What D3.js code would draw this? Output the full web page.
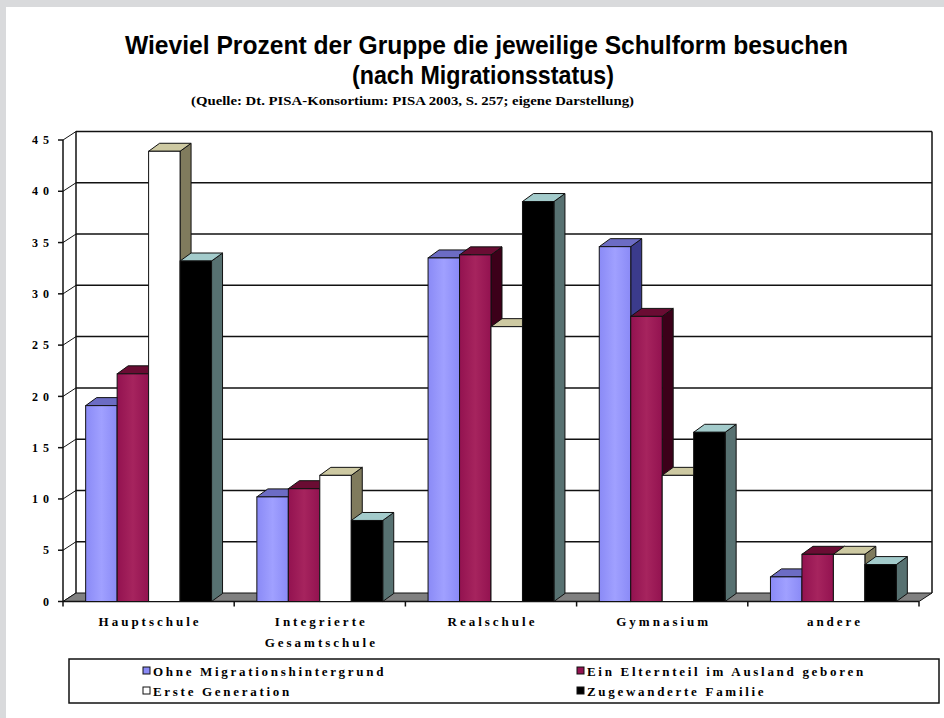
<!DOCTYPE html>
<html>
<head>
<meta charset="utf-8">
<script src="https://cdn.jsdelivr.net/npm/d3@7"></script>
<style>
  html, body { margin: 0; padding: 0; background: #d9dadc; }
  svg { display: block; }
</style>
</head>
<body>
<svg id="chart" width="944" height="718"></svg>
<script>
// data
const categories = ['Hauptschule', 'Integrierte Gesamtschule', 'Realschule', 'Gymnasium', 'andere'];
const seriesNames = ['Ohne Migrationshintergrund', 'Ein Elternteil im Ausland geboren', 'Erste Generation', 'Zugewanderte Familie'];
const ohneMigration = [19.1, 10.2, 33.5, 34.6, 2.4];
const einElternteil = [22.2, 11.0, 33.8, 27.8, 4.6];
const ersteGeneration = [43.9, 12.3, 26.8, 12.3, 4.6];
const zugewandert = [33.2, 7.9, 39.0, 16.5, 3.6];
const yTicks = [0, 5, 10, 15, 20, 25, 30, 35, 40, 45];

const seriesValues = [ohneMigration, einElternteil, ersteGeneration, zugewandert];

// face colours: front, top, side
const faces = [
  {front: '#8a8af6', light: '#a0a0ff', top: '#6c6cc4', side: '#3b3b8c'},
  {front: '#931250', light: '#a6245e', top: '#6a0c33', side: '#3c0019'},
  {front: '#ffffff', light: '#ffffff', top: '#cdc9a2', side: '#807b5d'},
  {front: '#000000', light: '#000000', top: '#a3cbcb', side: '#577171'}
];

const svg = d3.select('#chart');

// white panel (grey border only top / left)
svg.append('rect')
  .attr('x', 6).attr('y', 7)
  .attr('width', 944 - 6).attr('height', 718 - 7)
  .attr('fill', '#ffffff');

// titles
const titleFont = '"Liberation Sans Narrow", "Arial Narrow", "Liberation Sans", Arial, sans-serif';
svg.append('text')
  .attr('x', 125).attr('y', 54)
  .attr('textLength', 723).attr('lengthAdjust', 'spacingAndGlyphs')
  .style('font-family', titleFont).style('font-weight', 'bold').style('font-size', '25px')
  .text('Wieviel Prozent der Gruppe die jeweilige Schulform besuchen');
svg.append('text')
  .attr('x', 352).attr('y', 84)
  .attr('textLength', 262).attr('lengthAdjust', 'spacingAndGlyphs')
  .style('font-family', titleFont).style('font-weight', 'bold').style('font-size', '25px')
  .text('(nach Migrationsstatus)');
svg.append('text')
  .attr('x', 191).attr('y', 105)
  .attr('textLength', 443).attr('lengthAdjust', 'spacingAndGlyphs')
  .style('font-family', '"Liberation Serif", serif').style('font-weight', 'bold').style('font-size', '12px')
  .text('(Quelle: Dt. PISA-Konsortium: PISA 2003, S. 257; eigene Darstellung)');

// scales
const x0 = d3.scaleBand().domain(categories).range([63, 919]);
const x1 = d3.scaleBand().domain(d3.range(seriesNames.length)).range([0, x0.bandwidth()]).paddingOuter(0.72);
const y = d3.scaleLinear().domain([0, 45]).range([601.5, 140]);

const wallDx = 13, wallDy = -8.5;
const barDx = 11, barDy = -8;
const wallRight = x0.range()[1] + wallDx;

// gradients for bar fronts
const defs = svg.append('defs');
faces.forEach(function(f, i){
  const g = defs.append('linearGradient').attr('id', 'grad' + i)
    .attr('x1', '0%').attr('x2', '100%').attr('y1', '0%').attr('y2', '0%');
  g.append('stop').attr('offset', '0%').attr('stop-color', f.front);
  g.append('stop').attr('offset', '50%').attr('stop-color', f.light);
  g.append('stop').attr('offset', '100%').attr('stop-color', f.front);
});

const grid = svg.append('g');

// back wall grid lines + left side wall segments
yTicks.forEach(function(t){
  const yf = y(t), yb = y(t) + wallDy;
  if(t > 0){
    grid.append('line')
      .attr('x1', 63 + wallDx).attr('x2', wallRight)
      .attr('y1', yb).attr('y2', yb)
      .attr('stroke', '#111').attr('stroke-width', 1.5);
  }
  grid.append('line')
    .attr('x1', 63).attr('y1', yf)
    .attr('x2', 63 + wallDx).attr('y2', yb)
    .attr('stroke', '#111').attr('stroke-width', 1);
});

// wall edges
grid.append('line')
  .attr('x1', 63 + wallDx).attr('x2', 63 + wallDx)
  .attr('y1', y(45) + wallDy).attr('y2', y(0) + wallDy)
  .attr('stroke', '#111').attr('stroke-width', 1.5);
grid.append('line')
  .attr('x1', wallRight).attr('x2', wallRight)
  .attr('y1', y(45) + wallDy).attr('y2', y(0) + wallDy)
  .attr('stroke', '#111').attr('stroke-width', 1.5);

// floor
grid.append('polygon')
  .attr('points', [
    [63, y(0)], [919, y(0)], [919 + wallDx, y(0) + wallDy], [63 + wallDx, y(0) + wallDy]
  ].map(p => p.join(',')).join(' '))
  .attr('fill', '#808080').attr('stroke', '#111').attr('stroke-width', 1);

// y axis (front)
const yAxis = svg.append('g');
yAxis.append('line')
  .attr('x1', 63).attr('x2', 63)
  .attr('y1', y(45)).attr('y2', y(0))
  .attr('stroke', '#111').attr('stroke-width', 1.5);
yTicks.forEach(function(t){
  yAxis.append('line')
    .attr('x1', 58).attr('x2', 63)
    .attr('y1', y(t)).attr('y2', y(t))
    .attr('stroke', '#111').attr('stroke-width', 1.5);
  yAxis.append('text')
    .attr('x', 49 + 5).attr('y', y(t)).attr('dy', '0.35em')
    .attr('text-anchor', 'end')
    .style('font-family', '"Liberation Serif", serif').style('font-weight', 'bold')
    .style('font-size', '12px').style('letter-spacing', '5px')
    .text(t);
});

// x axis line + ticks
const xAxis = svg.append('g');
xAxis.append('line')
  .attr('x1', 63).attr('x2', 919)
  .attr('y1', y(0)).attr('y2', y(0))
  .attr('stroke', '#111').attr('stroke-width', 1.5);
const bounds = categories.map(c => x0(c)).concat([x0.range()[1]]);
bounds.forEach(function(bx){
  xAxis.append('line')
    .attr('x1', bx).attr('x2', bx)
    .attr('y1', y(0)).attr('y2', y(0) + 5)
    .attr('stroke', '#111').attr('stroke-width', 1.5);
});

// x labels
const xLabelLines = [['Hauptschule'], ['Integrierte', 'Gesamtschule'], ['Realschule'], ['Gymnasium'], ['andere']];
categories.forEach(function(c, i){
  const cx = x0(c) + x0.bandwidth() / 2;
  xLabelLines[i].forEach(function(line, j){
    xAxis.append('text')
      .attr('x', cx + 1.5).attr('y', 626 + j * 21)
      .attr('text-anchor', 'middle')
      .style('font-family', '"Liberation Serif", serif').style('font-weight', 'bold')
      .style('font-size', '13px').style('letter-spacing', '3px')
      .text(line);
  });
});

// bars, drawn left to right so later fronts hide earlier side faces
const bars = svg.append('g');
categories.forEach(function(c, ci){
  seriesValues.forEach(function(vals, si){
    const v = vals[ci];
    const bx = x0(c) + x1(si);
    const bw = x1.bandwidth();
    const by = y(v);
    const b0 = y(0);
    const f = faces[si];
    const g = bars.append('g');
    g.append('polygon')
      .attr('points', [[bx + bw, by], [bx + bw + barDx, by + barDy], [bx + bw + barDx, b0 + barDy], [bx + bw, b0]]
        .map(p => p.join(',')).join(' '))
      .attr('fill', f.side).attr('stroke', '#111').attr('stroke-width', 1);
    g.append('polygon')
      .attr('points', [[bx, by], [bx + barDx, by + barDy], [bx + bw + barDx, by + barDy], [bx + bw, by]]
        .map(p => p.join(',')).join(' '))
      .attr('fill', f.top).attr('stroke', '#111').attr('stroke-width', 1);
    g.append('rect')
      .attr('x', bx).attr('y', by)
      .attr('width', bw).attr('height', b0 - by)
      .attr('fill', 'url(#grad' + si + ')').attr('stroke', '#111').attr('stroke-width', 1);
  });
});

// legend
const legend = svg.append('g');
legend.append('rect')
  .attr('x', 69).attr('y', 659).attr('width', 870).attr('height', 44)
  .attr('fill', '#ffffff').attr('stroke', '#111').attr('stroke-width', 1.5);
const legendPos = [[143, 671], [577, 671], [143, 691], [577, 691]];
seriesNames.forEach(function(name, i){
  const p = legendPos[i];
  legend.append('rect')
    .attr('x', p[0]).attr('y', p[1] - 4).attr('width', 7).attr('height', 7)
    .attr('fill', faces[i].front).attr('stroke', '#111').attr('stroke-width', 1);
  legend.append('text')
    .attr('x', p[0] + 10).attr('y', p[1]).attr('dy', '0.35em')
    .style('font-family', '"Liberation Serif", serif').style('font-weight', 'bold')
    .style('font-size', '13px').style('letter-spacing', '2.7px')
    .text(name);
});
</script>
</body>
</html>
